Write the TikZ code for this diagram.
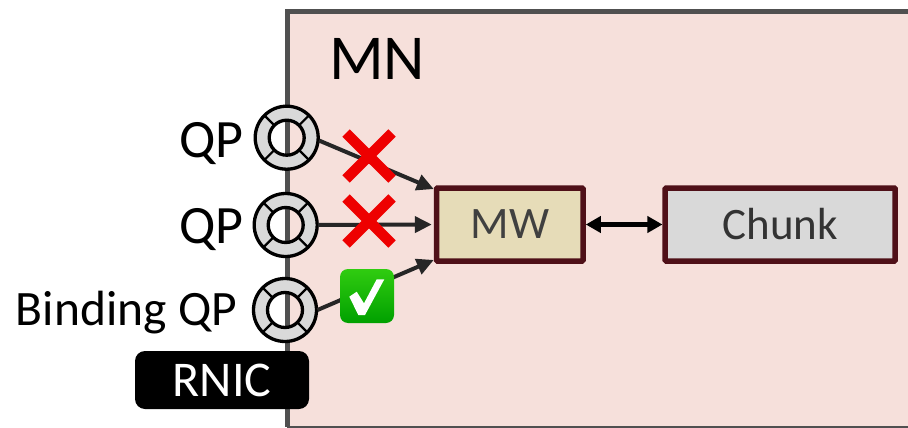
\documentclass[tikz,border=0pt]{standalone}
\usepackage{fontspec}
\setmainfont{Carlito}
\usetikzlibrary{arrows.meta,shapes.geometric,calc}
\definecolor{panelpink}{HTML}{F6E0DB}
\definecolor{framegray}{HTML}{505050}
\definecolor{boxborder}{HTML}{4F1018}
\definecolor{mwfill}{HTML}{E6DCB8}
\definecolor{chunkfill}{HTML}{D9D9D9}
\definecolor{arrowdark}{HTML}{262626}
\definecolor{crossred}{HTML}{EE0000}
\definecolor{checktop}{HTML}{30CC10}
\definecolor{checkbot}{HTML}{00A000}
\tikzset{
  labeltext/.style={font=\fontsize{54}{54}\selectfont, inner sep=0pt, outer sep=0pt, text=black},
  procbox/.style={draw=boxborder, line width=5.5pt, rounded corners=1pt, inner sep=0pt, outer sep=2.75pt, minimum height=73pt, font=\fontsize{45}{45}\selectfont},
  qpnode/.style={circle, inner sep=0pt, outer sep=0pt, minimum size=65pt},
  ringline/.style={draw=black, line width=3.3pt},
  link/.style={draw=arrowdark, line width=4pt, -{Triangle[length=17pt,width=16pt]}},
  both/.style={draw=black, line width=4.5pt, {Triangle[length=15pt,width=16pt]}-{Triangle[length=15pt,width=16pt]}},
  crossarm/.style={draw=crossred, line width=10.4pt},
}
\newcommand{\qpring}[3]{%
  \node[qpnode] (#1) at (#2,#3) {};
  \path[ringline, fill=chunkfill, even odd rule] (#2,#3) circle[radius=31.5pt] (#2,#3) circle[radius=17.5pt];
  \foreach \a in {45,135,225,315}
    \draw[ringline, line width=2.2pt] ($(#2,#3)+(\a:17.5pt)$) -- ($(#2,#3)+(\a:31.5pt)$);
}
\begin{document}
\begin{tikzpicture}[x=1pt,y=-1pt]
\useasboundingbox (0,0) rectangle (908,428);
\clip (0,0) rectangle (908,428);
% panel
\fill[panelpink] (287,12) rectangle (910,427);
\draw[framegray, line width=5pt] (910,12) -- (287,12) -- (287,426.5);
\draw[framegray, line width=1.8pt] (287,426.8) -- (910,426.8);
\node[labeltext, anchor=base west, font=\fontsize{64}{64}\selectfont] (mn) at (329,80) {MN};
% boxes
\node[procbox, fill=mwfill, text=black!75, minimum width=146.5pt] (mw) at (509.8,224.5) {MW};
\node[procbox, fill=chunkfill, text=black!80, minimum width=230pt] (chunk) at (780.2,224.5) {Chunk};
% rings
\qpring{q1}{286.7}{137.7}
\qpring{q2}{285.7}{225}
\qpring{q3}{285}{310}
% labels
\node[labeltext, anchor=base east] (l1) at (243.5,157) {QP};
\node[labeltext, anchor=base east] (l2) at (243.5,243) {QP};
\node[labeltext, anchor=base east, font=\fontsize{49.5}{50}\selectfont] (l3) at (237,325) {Binding QP};
% rnic
\node[fill=black, text=white, rounded corners=10pt, minimum width=174pt, minimum height=58pt, inner sep=0pt, font=\fontsize{50}{50}\selectfont] (rnic) at (222,380) {RNIC};
% arrows
\draw[link] (q1.-5) -- (mw.155);
\draw[link] (q2.east) -- ([xshift=-2pt]mw.west);
\draw[link] (q3.east) -- (mw.205);
\draw[both] (mw.east) -- (chunk.west);
% crosses
\node[inner sep=0pt, minimum size=0pt] (x1) at (369,156) {};
\node[inner sep=0pt, minimum size=0pt] (x2) at (369,221) {};
\foreach \c in {x1,x2}{
  \draw[crossarm] ($(\c)+(-23,-23)$) -- ($(\c)+(23,23)$);
  \draw[crossarm] ($(\c)+(23,-23)$) -- ($(\c)+(-23,23)$);
}
% check
\shade[top color=checktop, bottom color=checkbot, draw=none, rounded corners=8pt] (340,269) rectangle (394,323);
\fill[white] (349.3,296.7) -- (356.7,291.7) -- (364,303.3) -- (376.7,279.3) -- (384.3,279.3) -- (365,315) -- (358.3,315) -- cycle;
\end{tikzpicture}
\end{document}
